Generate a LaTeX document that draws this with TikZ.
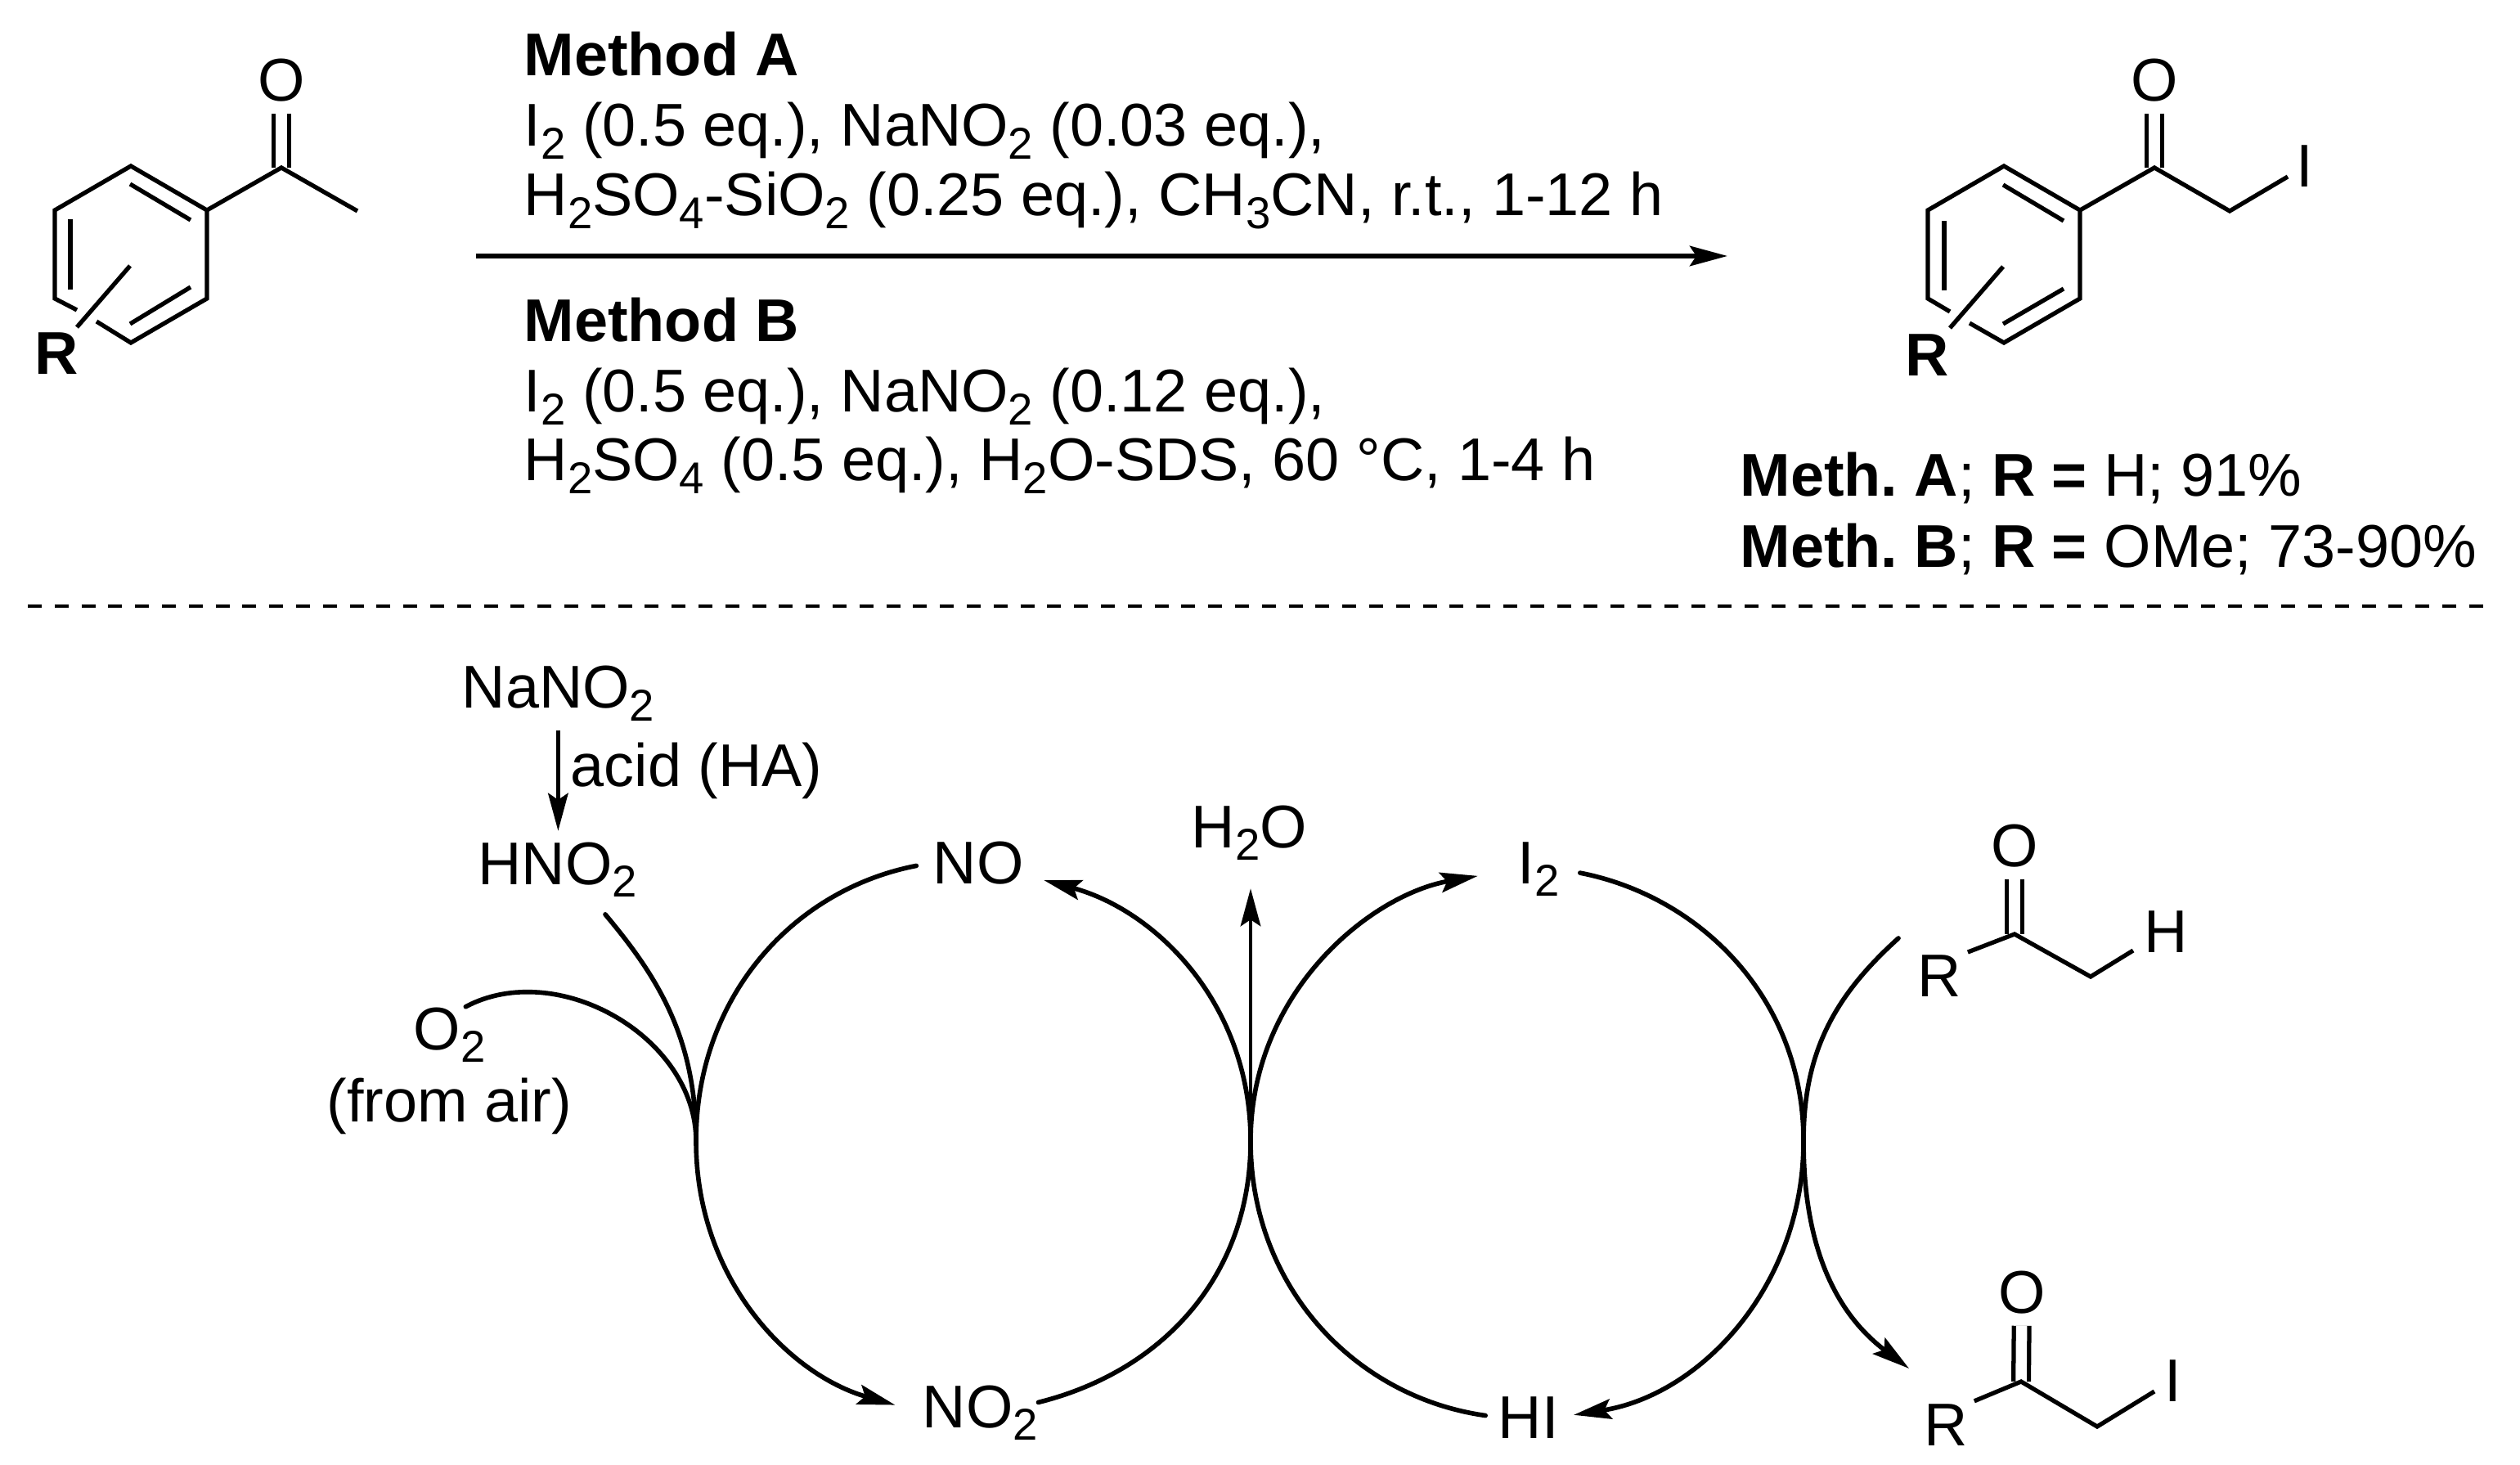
\documentclass[tikz,border=0pt]{standalone}
\usepackage{fontspec}
\setmainfont{Liberation Sans}
\usetikzlibrary{arrows.meta}
\newcommand{\subs}[1]{\raisebox{-0.21em}{\fontsize{15.5}{15.5}\selectfont #1}}
\frenchspacing

\begin{document}
\begin{tikzpicture}[
    chem/.style={inner sep=0pt, font=\fontsize{21}{24}\selectfont},
    txt/.style={chem, anchor=base west},
    bond/.style={line width=1.5pt},
    dbond/.style={line width=1.5pt, double, double distance=0.135cm},
    cycle/.style={line width=1.6pt, line cap=round},
    tip/.style={-{Stealth[length=0.46cm,width=0.245cm,inset=0.08cm]}}]
    \useasboundingbox (0,0) rectangle (30.81,-17.91);

    % Starting ketone
    \node (O_a) at (3.44,-0.98) [chem] {O};
    \node (R_a) at (0.69,-4.32) [chem] {\textbf{R}};
    \coordinate (C_a) at (3.44,-2.05);
    \draw [dbond, shorten <=0.14cm] (O_a) -- (C_a);
    \draw [bond] (2.53,-2.57) -- (C_a) -- (4.37,-2.58);
    \draw [bond] (0.94,-3.79) -- (0.67,-3.65) -- (0.67,-2.57) -- (1.60,-2.03) -- (2.53,-2.57) -- (2.53,-3.65) -- (1.60,-4.19) -- (1.18,-3.93);
    \draw [bond] (1.59,-2.25) -- (2.33,-2.69);
    \draw [bond] (0.86,-2.68) -- (0.86,-3.54);
    \draw [bond] (2.33,-3.51) -- (1.59,-3.96);
    \draw [bond] (1.59,-3.25) -- (0.94,-4.00);

    % Reaction conditions
    \node (meth_A) at (6.40,-0.93) [txt] {\textbf{Method A}};
    \node (cond_A1) at (6.40,-1.79) [txt] {I\subs{2} (0.5 eq.), NaNO\subs{2} (0.03 eq.),};
    \node (cond_A2) at (6.40,-2.64) [txt] {H\subs{2}SO\subs{4}-SiO\subs{2} (0.25 eq.), CH\subs{3}CN, r.t., 1-12 h};
    \node (meth_B) at (6.40,-4.18) [txt] {\textbf{Method B}};
    \node (cond_B1) at (6.40,-5.04) [txt] {I\subs{2} (0.5 eq.), NaNO\subs{2} (0.12 eq.),};
    \node (cond_B2) at (6.40,-5.88) [txt] {H\subs{2}SO\subs{4} (0.5 eq.), H\subs{2}O-SDS, 60 °C, 1-4 h};

    % Main arrow
    \coordinate (arr_s) at (5.82,-3.13);
    \coordinate (arr_e) at (21.12,-3.13);
    \draw [line width=1.6pt, tip] (arr_s) -- (arr_e);

    % Iodo ketone
    \node (O_b) at (26.34,-0.98) [chem] {O};
    \node (I_b) at (28.18,-2.03) [chem] {I};
    \node (R_b) at (23.56,-4.34) [chem] {\textbf{R}};
    \coordinate (C_b) at (26.34,-2.05);
    \coordinate (CH_b) at (27.26,-2.58);
    \draw [dbond, shorten <=0.14cm] (O_b) -- (C_b);
    \draw [bond] (25.43,-2.57) -- (C_b) -- (CH_b) -- (27.97,-2.16);
    \draw [bond] (23.84,-3.81) -- (23.57,-3.65) -- (23.57,-2.57) -- (24.50,-2.03) -- (25.43,-2.57) -- (25.43,-3.65) -- (24.50,-4.19) -- (24.08,-3.95);
    \draw [bond] (24.49,-2.26) -- (25.23,-2.70);
    \draw [bond] (23.77,-2.70) -- (23.77,-3.55);
    \draw [bond] (25.23,-3.53) -- (24.49,-3.96);
    \draw [bond] (24.49,-3.26) -- (23.84,-4.01);

    % Yields
    \node (yield_A) at (21.27,-6.07) [txt] {\textbf{Meth. A}; \textbf{R =} H; 91\%};
    \node (yield_B) at (21.27,-6.94) [txt] {\textbf{Meth. B}; \textbf{R =} OMe; 73-90\%};

    % Separation line
    \coordinate (sep_s) at (0.34,-7.41);
    \coordinate (sep_e) at (30.47,-7.41);
    \draw [line width=1.4pt, dash pattern=on 0.17cm off 0.158cm] (sep_s) -- (sep_e);

    % Species of the two cycles
    \node (NaNO2) at (5.64,-8.66) [txt] {NaNO\subs{2}};
    \node (acid) at (6.97,-9.62) [txt] {acid (HA)};
    \node (HNO2) at (5.84,-10.81) [txt] {HNO\subs{2}};
    \node (O2) at (5.05,-12.83) [txt] {O\subs{2}};
    \node (air) at (3.99,-13.71) [txt] {(from air)};
    \node (NO) at (11.40,-10.80) [txt] {NO};
    \node (NO2) at (11.27,-17.45) [txt] {NO\subs{2}};
    \node (H2O) at (14.56,-10.36) [txt] {H\subs{2}O};
    \node (I2) at (18.55,-10.80) [txt] {I\subs{2}};
    \node (HI) at (18.31,-17.58) [txt] {HI};

    % Tangent points of the cycles
    \coordinate (tan_A) at (8.51,-13.95);
    \coordinate (tan_B) at (15.29,-13.95);
    \coordinate (tan_C) at (22.05,-13.95);

    % Feed of the first cycle
    \draw [line width=1.4pt, tip, shorten <=0.11cm, shorten >=0.13cm] (NaNO2.south) -- (NaNO2.south |- HNO2.north);
    \draw [cycle, shorten <=0.27cm] (HNO2.-40) to [out=-50, in=90] (tan_A);
    \draw [cycle] (O2.60) to [out=28, in=90] (tan_A);

    % First cycle
    \draw [cycle, shorten <=0.20cm] (NO.west) to [out=191, in=90] (tan_A);
    \draw [cycle, tip, shorten >=0.34cm] (tan_A) to [out=270, in=164] (NO2.west);
    \draw [cycle] (NO2.10) to [out=14, in=270] (tan_B);
    \draw [cycle, tip, shorten >=0.25cm] (tan_B) to [out=90, in=345] (NO.-15);

    % Water leaving
    \draw [line width=1.4pt, tip, shorten >=0.34cm] (tan_B) -- (tan_B |- H2O.south);

    % Second cycle
    \draw [cycle, tip, shorten >=0.49cm] (tan_B) to [out=90, in=190] (I2.west);
    \draw [cycle, shorten <=0.25cm] (I2.east) to [out=-11, in=90] (tan_C);
    \draw [cycle, tip, shorten >=0.18cm] (tan_C) to [out=270, in=9] (HI.east);
    \draw [cycle, shorten <=0.15cm] (HI.west) to [out=172, in=270] (tan_B);

    % Substrate in, product out
    \coordinate (sub_in) at (23.21,-11.47);
    \coordinate (prod_out) at (23.34,-16.73);
    \draw [cycle] (sub_in) to [out=222, in=90] (tan_C);
    \draw [cycle, tip] (tan_C) to [out=270, in=143] (prod_out);

    % Substrate
    \node (O_c) at (24.63,-10.34) [chem] {O};
    \node (R_c) at (23.71,-11.93) [chem] {R};
    \node (H_c) at (26.48,-11.39) [chem] {H};
    \coordinate (C_c) at (24.63,-11.42);
    \coordinate (CH_c) at (25.56,-11.94);
    \draw [dbond, shorten <=0.14cm] (O_c) -- (C_c);
    \draw [bond, shorten <=0.08cm] (R_c.north east) -- (C_c) -- (CH_c) -- (26.08,-11.62);

    % Product
    \node (O_d) at (24.72,-15.80) [chem] {O};
    \node (R_d) at (23.79,-17.42) [chem] {R};
    \node (I_d) at (26.57,-16.88) [chem] {I};
    \coordinate (C_d) at (24.71,-16.89);
    \coordinate (CH_d) at (25.64,-17.44);
    \draw [dbond, shorten <=0.14cm] (O_d) -- (C_d);
    \draw [bond, shorten <=0.08cm] (R_d.north east) -- (C_d) -- (CH_d) -- (26.34,-17.01);
\end{tikzpicture}
\end{document}
